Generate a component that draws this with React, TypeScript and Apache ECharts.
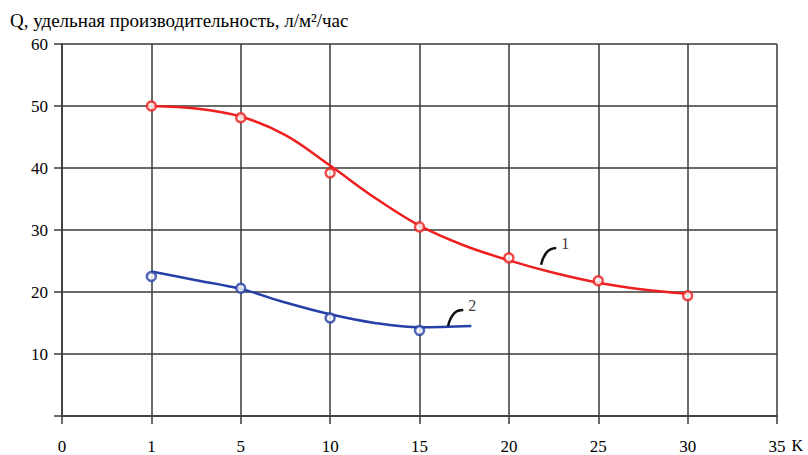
import React, { useEffect, useRef } from "react";
import * as echarts from "echarts";

const xLabels = ["0", "1", "5", "10", "15", "20", "25", "30", "35"];
const yTicks = [0, 10, 20, 30, 40, 50, 60];

// measured points (x = position index of K on the axis)
const redPointX = [1, 2, 3, 4, 5, 6, 7];
const redPointY = [50.0, 48.1, 39.2, 30.5, 25.5, 21.8, 19.4];
const bluePointX = [1, 2, 3, 4];
const bluePointY = [22.5, 20.6, 15.8, 13.8];

// fitted curves
const redCurveX = [1, 1.5, 2, 2.5, 3, 3.5, 4, 4.5, 5, 5.5, 6, 6.5, 7];
const redCurveY = [50.0, 49.6, 48.3, 45.3, 40.4, 35.2, 30.7, 27.5, 25.1, 23.1, 21.5, 20.4, 19.7];
const blueCurveX = [1, 1.5, 2, 2.5, 3, 3.5, 4, 4.58];
const blueCurveY = [23.3, 21.9, 20.5, 18.3, 16.4, 15.0, 14.3, 14.5];

// curve number leaders
const leader1X = [5.36, 5.43, 5.53];
const leader1Y = [24.4, 26.5, 27.1];
const leader2X = [4.32, 4.39, 4.49];
const leader2Y = [14.5, 16.6, 17.1];
const curveLabels = ["1", "2"];
const curveLabelX = [5.58, 4.54];
const curveLabelY = [27.9, 17.9];

const RED = "#ee1f1f";
const BLUE = "#2540a8";
const GRID = "#3a3a3a";
const FONT = "'Liberation Serif', 'Times New Roman', serif";

const zip = (xs: number[], ys: number[]) => xs.map((x, i) => [x, ys[i]]);

export default function App() {
  const ref = useRef<HTMLDivElement>(null);
  useEffect(() => {
    document.body.style.margin = "0";
    const chart = echarts.init(ref.current!, undefined, { renderer: "svg" });
    chart.setOption({
      animation: false,
      backgroundColor: "#ffffff",
      title: {
        text: "Q, удельная производительность, л/м²/час",
        left: 5,
        top: 6,
        textStyle: { fontFamily: FONT, fontSize: 19, fontWeight: "normal", color: "#000" },
      },
      grid: { left: 62, right: 31, top: 44, bottom: 39, outerBoundsMode: "none", containLabel: false },
      xAxis: {
        type: "value",
        min: 0,
        max: 8,
        interval: 1,
        name: "K",
        nameLocation: "end",
        nameGap: 12,
        nameTextStyle: {
          fontFamily: FONT,
          fontSize: 16,
          color: "#000",
          verticalAlign: "top",
          padding: [21, 0, 0, 0],
        },
        axisLine: { show: true, lineStyle: { color: "#444", width: 2 } },
        axisTick: { show: true, length: 8, lineStyle: { color: GRID, width: 1.5 } },
        axisLabel: {
          margin: 22,
          fontFamily: FONT,
          fontSize: 17,
          color: "#000",
          formatter: (v: number) => xLabels[Math.round(v)] ?? "",
        },
        splitLine: { show: true, lineStyle: { color: GRID, width: 1.5 } },
      },
      yAxis: {
        type: "value",
        min: 0,
        max: 60,
        interval: 10,
        axisLine: { show: true, lineStyle: { color: "#444", width: 2 } },
        axisTick: { show: true, length: 8, lineStyle: { color: GRID, width: 1.5 } },
        axisLabel: {
          margin: 14,
          fontFamily: FONT,
          fontSize: 17,
          color: "#000",
          formatter: (v: number) => (v === yTicks[0] ? "" : String(v)),
        },
        splitLine: { show: true, lineStyle: { color: GRID, width: 1.5 } },
      },
      series: [
        {
          type: "line",
          data: zip(redCurveX, redCurveY),
          smooth: 0.35,
          symbol: "none",
          lineStyle: { color: RED, width: 2.5 },
          z: 3,
        },
        {
          type: "line",
          data: zip(blueCurveX, blueCurveY),
          smooth: 0.35,
          symbol: "none",
          lineStyle: { color: BLUE, width: 2.5 },
          z: 3,
        },
        {
          type: "scatter",
          data: zip(redPointX, redPointY),
          symbol: "circle",
          symbolSize: 9,
          itemStyle: { color: "#fff", borderColor: RED, borderWidth: 2.5 },
          z: 4,
        },
        {
          type: "scatter",
          data: zip(bluePointX, bluePointY),
          symbol: "circle",
          symbolSize: 9,
          itemStyle: { color: "#fff", borderColor: BLUE, borderWidth: 2.5 },
          z: 4,
        },
        {
          type: "line",
          data: zip(leader1X, leader1Y),
          smooth: true,
          symbol: "none",
          lineStyle: { color: "#111", width: 2.5 },
          z: 5,
        },
        {
          type: "line",
          data: zip(leader2X, leader2Y),
          smooth: true,
          symbol: "none",
          lineStyle: { color: "#111", width: 2.5 },
          z: 5,
        },
        {
          type: "scatter",
          data: curveLabels.map((t, i) => ({ value: [curveLabelX[i], curveLabelY[i]], name: t })),
          symbolSize: 1,
          itemStyle: { color: "rgba(0,0,0,0)" },
          label: {
            show: true,
            position: "right",
            distance: 0,
            formatter: (p: any) => p.name,
            fontFamily: FONT,
            fontSize: 16,
            color: "#000",
          },
          z: 5,
        },
      ],
    });
    return () => chart.dispose();
  }, []);
  return <div ref={ref} style={{ width: 808, height: 455 }} />;
}
